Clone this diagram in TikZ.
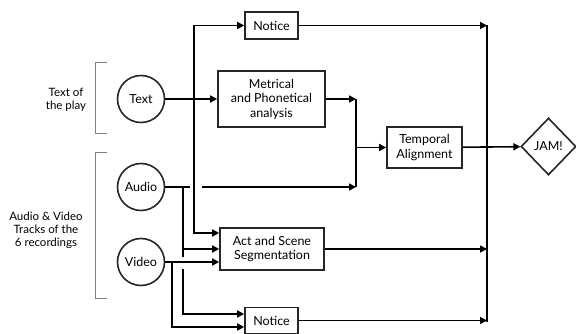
\documentclass[tikz,border=0pt]{standalone}
\usepackage{fontspec}
\setmainfont{Lato}
\usetikzlibrary{arrows.meta,shapes.geometric}
\begin{document}
\begin{tikzpicture}[x=1pt,y=-1pt,
  font=\fontsize{12.5}{14.5}\selectfont,
  every node/.style={text=black},
  box/.style={draw=black!85,line width=1.6pt,rectangle,inner sep=0pt,align=center},
  src/.style={draw=black!85,line width=1.6pt,circle,inner sep=0pt,minimum size=47pt},
  jamshape/.style={draw=black!85,line width=1.6pt,diamond,inner sep=0pt,minimum width=55pt,minimum height=57pt},
  wire/.style={draw=black,line width=1.6pt},
  arr/.style={wire,-{Triangle[length=7pt,width=7pt]}},
  brk/.style={draw=black!50,line width=0.8pt},
  lbl/.style={align=center,font=\fontsize{11.5}{13}\selectfont}]
\useasboundingbox (0,0) rectangle (576,334);

% nodes
\node[box,minimum width=53pt,minimum height=27pt] (notice1) at (271.5,25.5) {Notice};
\node[box,minimum width=107pt,minimum height=56pt] (metrical) at (271.5,99) {Metrical\\and Phonetical\\analysis};
\node[box,minimum width=75pt,minimum height=41pt] (temporal) at (424.5,147.5) {Temporal\\Alignment};
\node[box,minimum width=104pt,minimum height=42pt] (act) at (272,249) {Act and Scene\\Segmentation};
\node[box,minimum width=53pt,minimum height=26pt] (notice2) at (271.5,320.5) {Notice};
\node[jamshape] (jam) at (548.5,146.5) {JAM!};

\node[src] (text) at (141,99) {Text};
\node[src] (audio) at (141,187) {Audio};
\node[src] (video) at (141,262) {Video};

\node[lbl] (lbl1) at (66,100) {Text of\\the play};
\node[lbl] (lbl2) at (46,230) {Audio \& Video\\Tracks of the\\6 recordings};

% brackets
\draw[brk] (107,62) -- (95,62) -- (95,133) -- (107,133);
\draw[brk] (107,152) -- (95,152) -- (95,298) -- (107,298);

% coordinates
\coordinate (busT) at (487,25.5);
\coordinate (busB) at (487,322);
\coordinate (m1) at (356,99);
\coordinate (m2) at (356,187);
\coordinate (m3) at (356,147.5);
\coordinate (j1) at (194,99);
\coordinate (aj) at (183,187);
\coordinate (ag1) at (190,187);
\coordinate (ag2) at (202,187);
\coordinate (av1) at (183,257);
\coordinate (av2) at (183,269);
\coordinate (vj) at (172,262);

% right bus
\draw[wire] (busT) -- (busB);
\draw[arr] (notice1.east) -- (busT);
\draw[arr] (act.east) -- (act.east -| busT);
\draw[arr] (notice2.east) -- (notice2.east -| busT);

% text
\draw[arr] (text) -- (metrical);
\draw[arr] (j1) |- (notice1.west);
\draw[arr] (j1) |- ([yshift=16pt]act.west);

% metrical / audio to temporal
\draw[arr] (metrical.east) -- (m1);
\draw[wire] (m1) -- (m2);
\draw[arr] (m3) -- (temporal.west);
\draw[arr] (temporal) -- (jam);

% audio
\draw[wire] (audio) -- (ag1);
\draw[arr] (ag2) -- (m2);
\draw[wire] (aj) -- (av1);
\draw[arr] (aj |- act.west) -- (act.west);
\draw[arr] (av2) |- ([yshift=6.5pt]notice2.west);

% video
\draw[arr] (video) -- (video.east -| act.west);
\draw[arr] (vj) |- ([yshift=-6.5pt]notice2.west);
\end{tikzpicture}
\end{document}
